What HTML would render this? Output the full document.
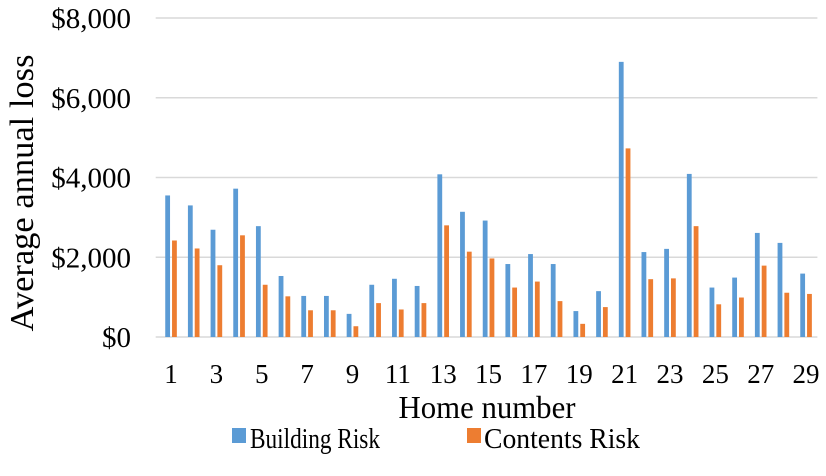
<!DOCTYPE html>
<html><head><meta charset="utf-8"><style>
body{margin:0;background:#fff;}
svg text{font-family:"Liberation Serif",serif;fill:#000;}
</style></head><body>
<svg id="chart" width="826" height="471" viewBox="0 0 826 471" xmlns="http://www.w3.org/2000/svg">
<g id="grid"></g><g id="bars"></g><g id="xt"></g><g id="yt"></g>
<text x="0" y="0" transform="translate(33,193) rotate(-90)" text-anchor="middle" font-size="34" textLength="277" lengthAdjust="spacingAndGlyphs">Average annual loss</text>
<text x="487" y="418" text-anchor="middle" font-size="32" textLength="177" lengthAdjust="spacingAndGlyphs">Home number</text>
<g>
<rect x="232" y="428" width="14" height="15" fill="#5B9BD5"/>
<text x="250" y="448" font-size="28" textLength="130" lengthAdjust="spacingAndGlyphs">Building Risk</text>
<text x="484" y="448" font-size="28" textLength="156" lengthAdjust="spacingAndGlyphs">Contents Risk</text>
<rect x="467" y="428" width="14" height="15" fill="#ED7D31"/>
</g>
</svg>
<script>
const categories=[1,2,3,4,5,6,7,8,9,10,11,12,13,14,15,16,17,18,19,20,21,22,23,24,25,26,27,28,29];
const buildingRisk=[3550,3300,2690,3720,2780,1530,1030,1030,580,1310,1460,1280,4080,3140,2920,1830,2080,1830,650,1150,6900,2130,2210,4090,1240,1490,2610,2360,1590];
const contentsRisk=[2420,2220,1800,2550,1310,1020,670,670,270,850,690,850,2800,2140,1970,1240,1390,900,330,750,4730,1450,1470,2780,820,990,1790,1110,1080];
const yTicks=[0,2000,4000,6000,8000];
const yTickLabels=["$0","$2,000","$4,000","$6,000","$8,000"];
const ns="http://www.w3.org/2000/svg";
const L=159.7,R=817.4,Y0=337,Y1=18,YMAX=8000;
const y=v=>Y0-(v/YMAX)*(Y0-Y1);
const step=(R-L)/categories.length;
const xc=i=>L+step*(i+0.5);
function mk(t,a,p){const e=document.createElementNS(ns,t);for(const k in a)e.setAttribute(k,a[k]);p.appendChild(e);return e;}
const grid=document.getElementById('grid'),bars=document.getElementById('bars'),xt=document.getElementById('xt'),yt=document.getElementById('yt');
yTicks.forEach((v,i)=>{
 const g=mk('line',{x1:L-4,x2:R,y1:y(v),y2:y(v),stroke:'#d9d9d9','stroke-width':1.5},grid);
 
 
 const t=mk('text',{x:131,y:y(v)+10,'text-anchor':'end','font-size':29},yt);
 t.textContent=yTickLabels[i];
 
 
});
const bw=4.8;
categories.forEach((c,i)=>{
 const b=mk('rect',{x:xc(i)-bw-1,y:y(buildingRisk[i]),width:bw,height:Y0-y(buildingRisk[i]),fill:'#5B9BD5'},bars);
 
 
 const o=mk('rect',{x:xc(i)+1,y:y(contentsRisk[i]),width:bw,height:Y0-y(contentsRisk[i]),fill:'#ED7D31'},bars);
 
 
 if(i%2===0){
  const t=mk('text',{x:xc(i),y:383,'text-anchor':'middle','font-size':27},xt);
  t.textContent=c;
  
  
 }
});
</script>
</body></html>
